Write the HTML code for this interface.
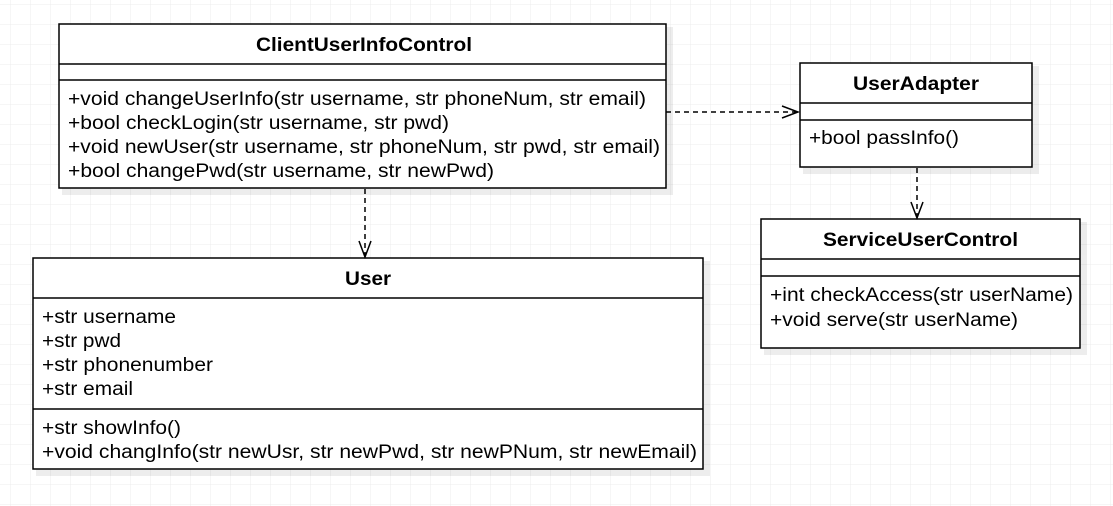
<!DOCTYPE html>
<html><head><style>
html,body{margin:0;padding:0;background:#fff;}
svg{display:block;font-family:"Liberation Sans",Arial,sans-serif;}
</style></head><body>
<svg width="1113" height="506" viewBox="0 0 1113 506" xmlns="http://www.w3.org/2000/svg">
<defs>
<pattern id="g" width="20" height="20" patternUnits="userSpaceOnUse" x="10" y="4">
<path d="M20 0H0V20" fill="none" stroke="#ececec" stroke-width="1"/>
</pattern>
</defs>
<rect width="1113" height="506" fill="url(#g)"/>
<g fill="#000" opacity="0.07">
<rect x="62" y="27" width="611" height="168"/>
<rect x="803" y="66" width="236" height="108"/>
<rect x="764" y="222" width="323" height="133"/>
<rect x="36" y="261" width="674" height="215"/>
</g>
<g fill="#fff" stroke="#000" stroke-width="1.5">
<rect x="59" y="24" width="607" height="164"/>
<rect x="800" y="63" width="232" height="104"/>
<rect x="761" y="219" width="319" height="129"/>
<rect x="33" y="258" width="670" height="211"/>
</g>
<g stroke="#000" stroke-width="1.5">
<line x1="59" y1="64" x2="666" y2="64"/><line x1="59" y1="80" x2="666" y2="80"/>
<line x1="800" y1="103" x2="1032" y2="103"/><line x1="800" y1="120" x2="1032" y2="120"/>
<line x1="761" y1="259" x2="1080" y2="259"/><line x1="761" y1="276" x2="1080" y2="276"/>
<line x1="33" y1="298" x2="703" y2="298"/><line x1="33" y1="409" x2="703" y2="409"/>
</g>
<g stroke="#000" stroke-width="1.5" fill="none">
<line x1="666" y1="112" x2="797" y2="112" stroke-dasharray="5,4"/>
<polyline points="782,106 798,112 782,118"/>
<line x1="917" y1="168" x2="917" y2="216" stroke-dasharray="5,4"/>
<polyline points="911,202 917,218 923,202"/>
<line x1="365" y1="189" x2="365" y2="255" stroke-dasharray="5,4"/>
<polyline points="359,241 365,257 371,241"/>
</g>
<g font-size="19" fill="#000" lengthAdjust="spacingAndGlyphs">
<text x="256" y="51" font-weight="bold" textLength="216" lengthAdjust="spacingAndGlyphs">ClientUserInfoControl</text>
<text x="68" y="105" textLength="578" lengthAdjust="spacingAndGlyphs">+void changeUserInfo(str username, str phoneNum, str email)</text>
<text x="68" y="129" textLength="381" lengthAdjust="spacingAndGlyphs">+bool checkLogin(str username, str pwd)</text>
<text x="68" y="153" textLength="592" lengthAdjust="spacingAndGlyphs">+void newUser(str username, str phoneNum, str pwd, str email)</text>
<text x="68" y="177" textLength="426" lengthAdjust="spacingAndGlyphs">+bool changePwd(str username, str newPwd)</text>
<text x="853" y="90" font-weight="bold" textLength="126" lengthAdjust="spacingAndGlyphs">UserAdapter</text>
<text x="809" y="144" textLength="150" lengthAdjust="spacingAndGlyphs">+bool passInfo()</text>
<text x="823" y="246" font-weight="bold" textLength="195" lengthAdjust="spacingAndGlyphs">ServiceUserControl</text>
<text x="770" y="301" textLength="303" lengthAdjust="spacingAndGlyphs">+int checkAccess(str userName)</text>
<text x="770" y="326" textLength="248" lengthAdjust="spacingAndGlyphs">+void serve(str userName)</text>
<text x="345" y="285" font-weight="bold" textLength="46" lengthAdjust="spacingAndGlyphs">User</text>
<text x="42" y="323" textLength="134" lengthAdjust="spacingAndGlyphs">+str username</text>
<text x="42" y="347" textLength="79" lengthAdjust="spacingAndGlyphs">+str pwd</text>
<text x="42" y="371" textLength="171" lengthAdjust="spacingAndGlyphs">+str phonenumber</text>
<text x="42" y="395" textLength="91" lengthAdjust="spacingAndGlyphs">+str email</text>
<text x="42" y="434" textLength="139" lengthAdjust="spacingAndGlyphs">+str showInfo()</text>
<text x="42" y="458" textLength="655" lengthAdjust="spacingAndGlyphs">+void changInfo(str newUsr, str newPwd, str newPNum, str newEmail)</text>
</g>
</svg>
</body></html>
